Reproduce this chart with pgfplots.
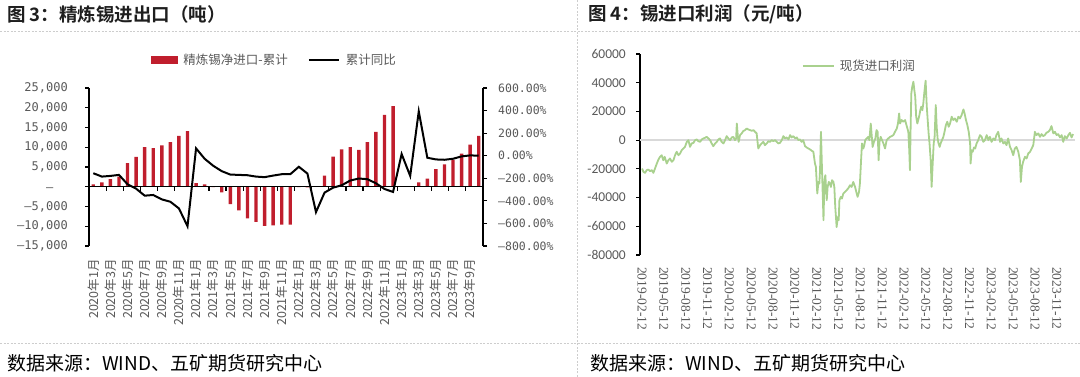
\documentclass[border=0pt]{standalone}
\usepackage{pgfplots}
\usepackage{pgfplotstable}
\pgfplotsset{compat=1.18}
\usepackage{fontspec}
\setmainfont{Noto Sans CJK SC}[BoldFont={Noto Sans CJK SC Bold}]
\newfontfamily\monof{DejaVu Sans Mono}
\newfontfamily\carl{Carlito}
\newfontfamily\lser{Liberation Serif}
\definecolor{barred}{RGB}{192,30,45}
\definecolor{lgreen}{RGB}{169,209,142}
\definecolor{txtgray}{RGB}{89,89,89}
\definecolor{sepgray}{RGB}{205,205,205}
\definecolor{zerogray}{RGB}{217,217,217}

\pgfplotstableread{
idx val yoy
0 600 -155
1 1100 -185
2 1950 -179
3 2550 -170
4 6000 -253
5 7550 -292
6 10000 -354
7 9750 -348
8 10500 -387
9 11270 -408
10 12900 -467
11 14070 -625
12 930 65
13 600 -27
14 -100 -89
15 -1400 -137
16 -4400 -167
17 -6000 -170
18 -8000 -173
19 -8900 -185
20 -9900 -190
21 -9750 -176
22 -9580 -164
23 -9580 -164
24 -100 -98
25 -150 -158
26 50 -500
27 2800 -327
28 7630 -283
29 9490 -262
30 10000 -220
31 9320 -202
32 11270 -208
33 13900 -244
34 18220 -295
35 20420 -321
36 30 15
37 100 -179
38 1100 393
39 2030 -18
40 4490 -33
41 5680 -36
42 6780 -27
43 8390 -6
44 10680 3
45 12880 0
}\tinexp

% x: time index (one unit = 0.947 quarter, starting 2019-02-12)
\pgfplotstableread{
q v
0.00 -19800
0.06 -22100
0.13 -22800
0.20 -20900
0.27 -20500
0.35 -21600
0.42 -20900
0.49 -22800
0.56 -19800
0.64 -16300
0.71 -13500
0.78 -11600
0.85 -10500
0.92 -14000
0.98 -11600
1.07 -16300
1.14 -14000
1.21 -12800
1.29 -15100
1.36 -14000
1.43 -10500
1.50 -8100
1.58 -10500
1.65 -9300
1.72 -7000
1.79 -5800
1.86 -4700
1.94 -1200
2.01 0
2.08 -4700
2.15 -2300
2.23 -1900
2.30 0
2.37 500
2.44 -700
2.52 -1200
2.59 500
2.66 1200
2.73 1600
2.80 2300
2.88 1200
2.95 0
3.02 -2300
3.09 -4200
3.17 -2300
3.24 -1200
3.31 500
3.38 1200
3.45 -1200
3.53 -2300
3.60 0
3.67 2800
3.74 1200
3.82 0
3.89 1900
3.96 2300
4.03 0
4.08 1200
4.11 11600
4.15 3500
4.19 -1200
4.25 3500
4.32 4700
4.39 6300
4.47 7000
4.54 8100
4.61 7400
4.68 7000
4.76 6500
4.83 7000
4.90 5800
4.97 4700
5.04 -5800
5.12 -3500
5.19 -2300
5.26 -1200
5.33 -3500
5.41 -2300
5.48 -700
5.55 -1200
5.62 0
5.70 -700
5.77 0
5.84 -1200
5.91 -2300
5.98 -1900
6.06 0
6.13 2800
6.20 1200
6.27 1900
6.35 500
6.42 3500
6.49 1900
6.56 2800
6.64 1200
6.71 1900
6.78 0
6.85 500
6.92 -1200
6.99 0
7.07 -4200
7.14 -5100
7.21 -5800
7.29 -6500
7.36 -7400
7.43 -8100
7.50 -16300
7.54 -18600
7.60 -37200
7.65 -29100
7.69 -30200
7.72 -20900
7.76 5800
7.81 -23300
7.87 -55800
7.91 -27900
7.95 -24400
8.01 -41900
8.05 -32600
8.10 -29100
8.15 -30200
8.19 -32600
8.24 -27900
8.30 -29100
8.34 -32600
8.38 -46500
8.44 -60500
8.49 -53500
8.53 -55800
8.56 -41900
8.62 -39500
8.67 -40700
8.73 -37200
8.80 -36100
8.87 -34900
8.94 -33700
9.02 -31400
9.09 -32600
9.16 -29100
9.24 -32600
9.31 -37200
9.35 -39500
9.41 -36100
9.45 -30200
9.50 -14000
9.54 -2300
9.60 -5800
9.64 -3500
9.68 0
9.74 1200
9.81 2300
9.86 0
9.92 11600
9.96 3500
10.00 -4700
10.06 -1200
10.12 1200
10.17 7000
10.22 5800
10.26 -14000
10.30 -1200
10.35 2300
10.41 0
10.47 -2300
10.54 -5800
10.61 0
10.68 1200
10.76 2300
10.83 2800
10.90 3500
10.97 5800
11.05 8100
11.10 11600
11.15 18600
11.19 11600
11.26 14000
11.33 12800
11.41 14000
11.45 11600
11.51 8100
11.55 5800
11.59 -7000
11.62 -20900
11.65 9300
11.68 32600
11.72 37200
11.77 40700
11.81 34900
11.85 30200
11.89 16300
11.94 11600
11.98 14000
12.03 17400
12.07 20900
12.11 23300
12.16 20900
12.20 25600
12.24 32600
12.30 41400
12.35 23300
12.39 14000
12.43 4700
12.47 -2300
12.52 -14000
12.56 -32600
12.60 -18600
12.65 -2300
12.69 2300
12.74 24400
12.78 9300
12.82 1200
12.86 -2300
12.91 -4700
12.95 -2300
13.01 0
13.07 2300
13.12 5800
13.18 10500
13.24 12800
13.30 9300
13.36 11600
13.43 16300
13.50 14000
13.57 15100
13.65 12800
13.72 16300
13.79 15100
13.86 17400
13.94 21400
13.99 18600
14.05 14000
14.11 10500
14.17 5800
14.23 -2300
14.25 -16300
14.30 -7000
14.34 -8100
14.40 -5100
14.45 -5800
14.51 -2300
14.58 0
14.66 3500
14.73 2300
14.80 -1200
14.87 0
14.95 3500
15.02 0
15.09 2300
15.16 -1200
15.24 1200
15.31 0
15.37 3500
15.45 5800
15.53 -1200
15.59 1200
15.67 -2300
15.74 -1200
15.81 -3500
15.88 1200
15.96 -4700
16.03 -7000
16.10 -10500
16.17 -5800
16.24 -4700
16.32 -8100
16.39 -14000
16.43 -29100
16.48 -18600
16.53 -15100
16.61 -11600
16.68 -12800
16.75 -9300
16.83 -8100
16.90 -5800
16.97 -3500
17.04 5800
17.11 3500
17.19 4700
17.26 2300
17.33 4200
17.40 2800
17.47 3500
17.54 5100
17.62 5800
17.69 7000
17.76 9800
17.84 4700
17.91 5800
17.98 3500
18.05 4200
18.13 1900
18.20 3500
18.27 -1200
18.34 2800
18.42 1200
18.49 3500
18.56 5100
18.63 1900
18.70 4200
}\profit

\begin{document}
\begin{tikzpicture}
\path[use as bounding box] (0pt,0pt) rectangle (1080pt,377pt);
% separators
\draw[sepgray, line width=0.8pt, dash pattern=on 2pt off 1.5pt] (0pt,346pt) -- (1080pt,346pt);
\draw[sepgray, line width=0.8pt, dash pattern=on 2pt off 1.5pt] (0pt,34pt) -- (1080pt,34pt);
\draw[sepgray, line width=0.8pt, dash pattern=on 2pt off 1.5pt] (577pt,0pt) -- (577pt,377pt);
% titles
\node[anchor=west, inner sep=0pt, text={rgb,255:red,30;green,30;blue,30}] at (7pt,363pt) {\fontsize{18.5}{18.5}\selectfont\bfseries 图 3：精炼锡进出口（吨）};
\node[anchor=west, inner sep=0pt, text={rgb,255:red,30;green,30;blue,30}] at (588pt,363pt) {\fontsize{18.5}{18.5}\selectfont\bfseries 图 4：锡进口利润（元/吨）};
% footers
\node[anchor=west, inner sep=0pt] at (7pt,14pt) {\fontsize{19}{19}\selectfont 数据来源：WIND、五矿期货研究中心};
\node[anchor=west, inner sep=0pt] at (590pt,14pt) {\fontsize{19}{19}\selectfont 数据来源：WIND、五矿期货研究中心};

% ---------------- left chart: bars ----------------
\begin{axis}[
  at={(89pt,131pt)}, anchor=south west, scale only axis,
  width=394pt, height=158pt,
  xmin=-0.5, xmax=45.5, ymin=-15000, ymax=25000,
  axis y line*=left, axis x line*=bottom,
  x axis line style={draw=none},
  y axis line style={line width=1.2pt},
  scaled y ticks=false,
  ytick={-15000,-10000,-5000,0,5000,10000,15000,20000,25000},
  yticklabels={{–15,000},{–10,000},{–5,000},{–\phantom{00}},{5,000},{10,000},{15,000},{20,000},{25,000}},
  yticklabel style={font=\monof\fontsize{12}{12}\selectfont, text=txtgray, inner sep=0pt},
  yticklabel shift=17pt,
  tick align=outside, major tick length=4pt,
  ytick style={black, line width=1.2pt},
  xtick={0,2,...,44},
  xticklabels={2020年1月,2020年3月,2020年5月,2020年7月,2020年9月,2020年11月,2021年1月,2021年3月,2021年5月,2021年7月,2021年9月,2021年11月,2022年1月,2022年3月,2022年5月,2022年7月,2022年9月,2022年11月,2023年1月,2023年3月,2023年5月,2023年7月,2023年9月},
  xticklabel style={rotate=90, anchor=east, inner sep=0pt, font=\fontsize{12.5}{12.5}\selectfont, text=txtgray},
  xticklabel shift=9pt,
  xtick style={draw=none},
  ybar, bar width=3.4pt,
]
\addplot[fill=barred, draw=none] table[x=idx,y=val]{\tinexp};
\draw[black, line width=1.2pt] (axis cs:-0.5,0) -- (axis cs:45.5,0);
\pgfplotsinvokeforeach{1.5,3.5,...,43.5}{\draw[black,line width=1.2pt] (axis cs:#1,0) -- ++(0pt,-4pt);}
\end{axis}

% ---------------- left chart: yoy line ----------------
\begin{axis}[
  at={(89pt,131pt)}, anchor=south west, scale only axis,
  width=394pt, height=158pt,
  xmin=-0.5, xmax=45.5, ymin=-800, ymax=600,
  axis y line*=right, axis x line=none,
  y axis line style={line width=1.2pt},
  ytick={-800,-600,-400,-200,0,200,400,600},
  yticklabels={{–800.00\%},{–600.00\%},{–400.00\%},{–200.00\%},{0.00\%},{200.00\%},{400.00\%},{600.00\%}},
  yticklabel style={font=\monof\fontsize{11.5}{11.5}\selectfont, text=txtgray, inner sep=0pt, anchor=west},
  yticklabel shift=11pt,
  tick align=outside, major tick length=4pt,
  ytick style={black, line width=1.2pt},
  legend style={at={(0.157,1.177)}, anchor=west, draw=none, fill=none,
    legend columns=-1, font=\fontsize{12.5}{12.5}\selectfont, text=txtgray,
    inner sep=0pt, nodes={inner sep=0pt},
    /tikz/every odd column/.append style={column sep=6pt},
    /tikz/every even column/.append style={column sep=20pt}},
]
\addlegendimage{legend image code/.code={\fill[barred] (0pt,-3.5pt) rectangle (26pt,3.5pt);}}
\addlegendentry{精炼锡净进口-累计}
\addplot[black, line width=2pt, legend image code/.code={\draw[black,line width=2pt] (0pt,0pt) -- (30pt,0pt);}] table[x=idx,y=yoy]{\tinexp};
\addlegendentry{累计同比}
\end{axis}

% ---------------- right chart ----------------
\begin{axis}[
  at={(640pt,122pt)}, anchor=south west, scale only axis,
  width=435pt, height=201pt,
  xmin=-0.09, xmax=18.78, ymin=-80000, ymax=60000,
  axis y line*=left, axis x line*=bottom,
  x axis line style={draw=none},
  y axis line style={line width=1.2pt},
  scaled y ticks=false,
  ytick={-80000,-60000,-40000,-20000,0,20000,40000,60000},
  yticklabels={-80000,-60000,-40000,-20000,0,20000,40000,60000},
  yticklabel style={font=\carl\fontsize{13.5}{13.5}\selectfont, text=txtgray, inner sep=0pt},
  yticklabel shift=10pt,
  tick align=outside, major tick length=4pt,
  ytick style={black, line width=1.2pt},
  xtick={0,0.947,1.894,2.841,3.788,4.736,5.683,6.630,7.577,8.524,9.471,10.418,11.365,12.312,13.259,14.207,15.154,16.101,17.048,17.995},
  xticklabels={2019-02-12,2019-05-12,2019-08-12,2019-11-12,2020-02-12,2020-05-12,2020-08-12,2020-11-12,2021-02-12,2021-05-12,2021-08-12,2021-11-12,2022-02-12,2022-05-12,2022-08-12,2022-11-12,2023-02-12,2023-05-12,2023-08-12,2023-11-12},
  xticklabel style={rotate=-90, anchor=west, inner sep=0pt, font=\lser\fontsize{13.5}{13.5}\selectfont, text=txtgray},
  xticklabel shift=8pt,
  xtick style={draw=none},
  legend style={at={(0.372,0.940)}, anchor=west, draw=none, fill=none,
    font=\fontsize{12.5}{12.5}\selectfont, text=txtgray,
    inner sep=0pt, nodes={inner sep=0pt},
    /tikz/every odd column/.append style={column sep=5pt}},
]
\draw[zerogray, line width=1.5pt] (axis cs:-0.09,0) -- (axis cs:18.78,0);
\addplot[lgreen, line width=1.8pt, line join=round, legend image code/.code={\draw[lgreen,line width=1.8pt] (0pt,0pt) -- (31pt,0pt);}] table[x=q,y=v]{\profit};
\addlegendentry{现货进口利润}
\end{axis}
\end{tikzpicture}
\end{document}
